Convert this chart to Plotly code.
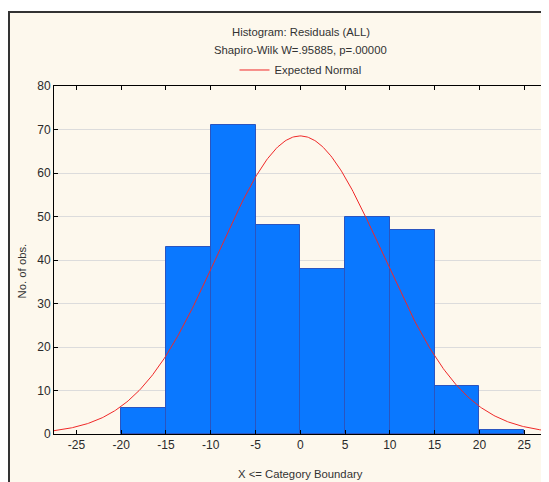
import numpy as np
import plotly.graph_objects as go

# Histogram data
bin_left_edges = [-20, -15, -10, -5, 0, 5, 10, 15, 20]
bin_width = 5
counts = [6, 43, 71, 48, 38, 50, 47, 11, 1]

# Expected normal parameters (fitted)
normal_mean = 0.0
normal_sd = 9.17
n_total = sum(counts)

x_ticks = [-25, -20, -15, -10, -5, 0, 5, 10, 15, 20, 25]
y_ticks = [0, 10, 20, 30, 40, 50, 60, 70, 80]

title_line1 = "Histogram: Residuals (ALL)"
title_line2 = "Shapiro-Wilk W=.95885, p=.00000"

FONT = "Liberation Sans Narrow, Liberation Sans, Arial, sans-serif"
TXT = "#333333"
TICK = "#2a2a2a"
FS = 11.3

xr = [-27.5, 27.55]
xs = np.linspace(xr[0], xr[1], 400)
ys = n_total * bin_width / (normal_sd * np.sqrt(2 * np.pi)) * np.exp(-0.5 * ((xs - normal_mean) / normal_sd) ** 2)

fig = go.Figure()
fig.add_trace(go.Bar(
    x=bin_left_edges, y=counts, width=bin_width, offset=0,
    marker=dict(color="#0a78ff", line=dict(color="#2a55c0", width=1)),
    showlegend=False,
))
fig.add_trace(go.Scatter(
    x=xs, y=ys, mode="lines", name="Expected Normal",
    line=dict(color="#f02828", width=1),
))

# page body has an 8px margin; figure placed so plot area lands at x 54..547, y 86..434
fig.update_layout(
    width=541, height=474,
    margin=dict(l=46, r=2, t=78, b=48),
    paper_bgcolor="white",
    plot_bgcolor="white",
    font=dict(family=FONT, size=FS, color=TXT),
    bargap=0,
    legend=dict(x=0.5, xanchor="center", y=1.046, yanchor="middle",
                orientation="h", bgcolor="rgba(0,0,0,0)",
                font=dict(family=FONT, size=FS, color=TXT),
                itemwidth=30),
    shapes=[dict(type="rect", xref="paper", yref="paper",
                 x0=-0.0913, x1=1.05, y0=-0.3, y1=1.213,
                 fillcolor="#fdf8ed", line=dict(color="#333333", width=2),
                 layer="below")],
    annotations=[
        dict(text=title_line1, xref="paper", yref="paper", x=0.5, y=1.155,
             showarrow=False, xanchor="center", yanchor="middle",
             font=dict(family=FONT, size=FS, color=TXT)),
        dict(text=title_line2, xref="paper", yref="paper", x=0.5, y=1.103,
             showarrow=False, xanchor="center", yanchor="middle",
             font=dict(family=FONT, size=FS, color=TXT)),
        dict(text="X <= Category Boundary", xref="paper", yref="paper", x=0.5, y=-0.115,
             showarrow=False, xanchor="center", yanchor="middle",
             font=dict(family=FONT, size=FS, color=TXT)),
        dict(text="No. of obs.", xref="paper", yref="paper", x=-0.065, y=0.47,
             showarrow=False, xanchor="center", yanchor="middle", textangle=-90,
             font=dict(family=FONT, size=FS, color=TXT)),
    ],
)
fig.update_xaxes(range=xr, tickvals=x_ticks, ticktext=[str(v) for v in x_ticks],
                 ticks="inside", ticklen=4,
                 tickfont=dict(family=FONT, size=12, color=TICK),
                 showline=True, linecolor="#000000", linewidth=1, mirror="ticks",
                 showgrid=False, zeroline=False, tickcolor="#000000")
fig.update_yaxes(range=[0, 80], tickvals=y_ticks, ticktext=[str(v) for v in y_ticks],
                 ticks="inside", ticklen=4,
                 tickfont=dict(family=FONT, size=12, color=TICK),
                 showline=True, linecolor="#000000", linewidth=1, mirror="ticks",
                 showgrid=True, gridcolor="#dcdcdc", zeroline=False, tickcolor="#000000")

fig.write_html("out.html")
